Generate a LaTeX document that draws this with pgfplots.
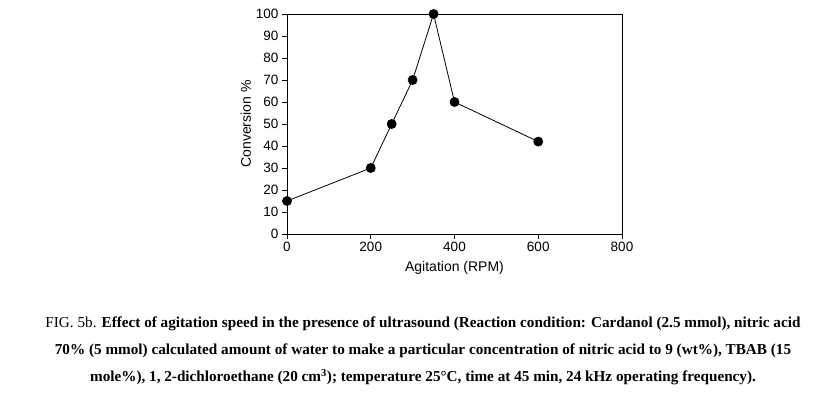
\documentclass[border=0pt]{standalone}
\usepackage{pgfplots}
\pgfplotsset{compat=1.18}
\usepackage{fontspec}
\setmainfont{Liberation Serif}
\newfontfamily\arial{Liberation Sans}
\begin{document}
\begin{tikzpicture}[x=1pt,y=1pt]
\fill[white] (0,0) rectangle (838,399);
\begin{axis}[
  at={(287pt,165pt)}, anchor=south west,
  scale only axis, width=335pt, height=220pt,
  xmin=0, xmax=800, ymin=0, ymax=100,
  xtick={0,200,400,600,800}, ytick={0,10,...,100},
  tick align=outside, major tick length=5pt,
  xtick pos=bottom, ytick pos=left,
  axis line style={black, line width=0.8pt},
  tick style={black, line width=0.8pt},
  tick label style={font=\arial\fontsize{13.5}{15}\selectfont},
  /pgf/number format/assume math mode=true,
  xlabel={Agitation (RPM)}, ylabel={Conversion \%},
  label style={font=\arial\fontsize{14}{16}\selectfont},
  xlabel style={yshift=-2pt},
  ylabel style={yshift=-2pt},
  clip=false,
]
\addplot[black, line width=0.8pt, mark=*, mark size=4.5pt, mark options={fill=black}]
  coordinates {(0,15) (200,30) (250,50) (300,70) (350,100) (400,60) (600,42)};
\end{axis}
\node[align=center, font=\fontsize{15.2}{27}\selectfont] at (423,48)
  {FIG. 5b. \textbf{Effect of agitation speed in the presence of ultrasound (Reaction condition: Cardanol (2.5 mmol), nitric acid}\\
   \textbf{70\% (5 mmol) calculated amount of water to make a particular concentration of nitric acid to 9 (wt\%), TBAB (15}\\
   \textbf{mole\%), 1, 2-dichloroethane (20 cm$^{\mathbf{3}}$); temperature 25°C, time at 45 min, 24 kHz operating frequency).}};
\end{tikzpicture}
\end{document}
